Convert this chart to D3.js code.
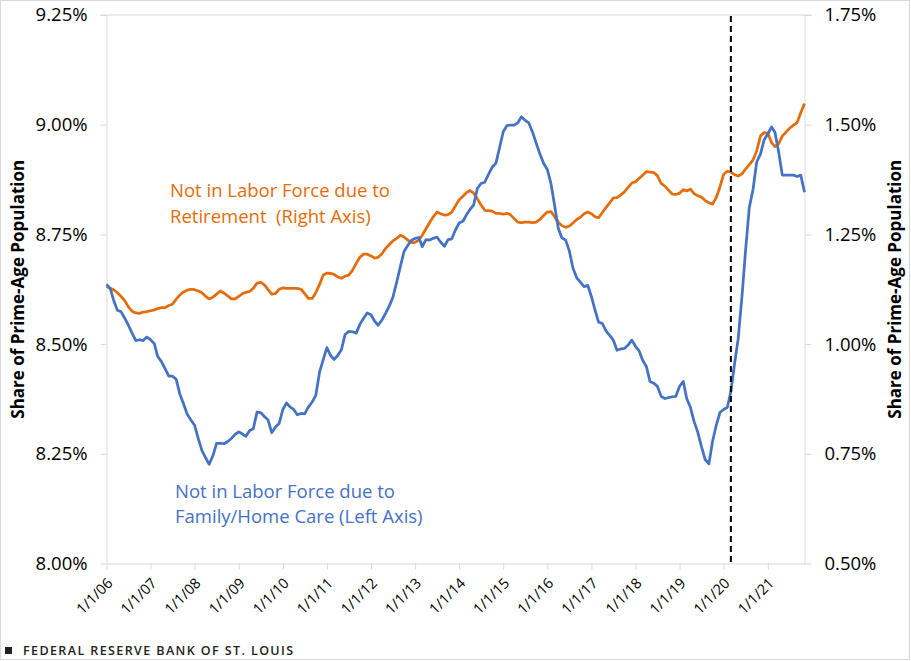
<!DOCTYPE html>
<html><head><meta charset="utf-8">
<script src="https://cdn.jsdelivr.net/npm/d3@7"></script>
<style>
body{margin:0;background:#fff}
svg{display:block}
text{font-family:"Open Sans",sans-serif}
</style>
</head><body>
<svg id="chart" width="911" height="661"></svg>
<script>
// ---- data (monthly, Jan 2006 onward) ----
const startMonth = "2006-01-01";
const endMonth = "2021-11-01";
const familyCare = [ // left axis, %
8.636,8.627,8.600,8.577,8.574,8.559,8.543,8.525,8.508,8.510,8.508,8.516,
8.510,8.501,8.472,8.460,8.444,8.427,8.427,8.420,8.386,8.364,8.340,8.327,
8.315,8.284,8.258,8.241,8.226,8.246,8.274,8.274,8.273,8.278,8.285,8.294,
8.300,8.295,8.290,8.303,8.307,8.345,8.344,8.335,8.327,8.298,8.311,8.319,
8.351,8.366,8.357,8.351,8.339,8.342,8.341,8.357,8.368,8.383,8.436,8.464,
8.492,8.474,8.465,8.474,8.487,8.522,8.529,8.528,8.525,8.545,8.559,8.571,
8.567,8.552,8.543,8.555,8.570,8.587,8.607,8.641,8.677,8.711,8.725,8.736,
8.741,8.743,8.722,8.738,8.737,8.741,8.744,8.732,8.723,8.738,8.740,8.760,
8.776,8.780,8.794,8.807,8.817,8.855,8.866,8.869,8.887,8.903,8.912,8.947,
8.984,8.998,8.999,8.999,9.004,9.018,9.010,9.004,8.983,8.958,8.933,8.912,
8.898,8.865,8.817,8.764,8.742,8.737,8.713,8.673,8.651,8.641,8.631,8.634,
8.608,8.576,8.550,8.547,8.530,8.520,8.509,8.486,8.489,8.490,8.498,8.509,
8.495,8.484,8.463,8.449,8.415,8.411,8.404,8.381,8.376,8.378,8.380,8.381,
8.404,8.415,8.376,8.356,8.324,8.299,8.267,8.237,8.227,8.278,8.315,8.344,
8.351,8.356,8.392,8.456,8.513,8.609,8.714,8.812,8.853,8.915,8.933,8.965,
8.979,8.995,8.983,8.938,8.885,8.885,8.885,8.885,8.882,8.885,8.846
];
const retirement = [ // right axis, %
1.131,1.127,1.124,1.117,1.109,1.099,1.085,1.075,1.071,1.070,1.073,1.074,
1.076,1.078,1.081,1.083,1.083,1.088,1.091,1.102,1.112,1.119,1.123,1.125,
1.124,1.121,1.117,1.109,1.103,1.107,1.114,1.121,1.116,1.110,1.103,1.103,
1.109,1.115,1.118,1.120,1.127,1.139,1.141,1.135,1.124,1.114,1.115,1.125,
1.128,1.127,1.127,1.127,1.127,1.125,1.115,1.104,1.104,1.117,1.136,1.157,
1.162,1.161,1.159,1.153,1.150,1.155,1.157,1.168,1.184,1.198,1.205,1.205,
1.201,1.196,1.198,1.206,1.218,1.227,1.235,1.241,1.248,1.244,1.237,1.231,
1.232,1.237,1.248,1.263,1.277,1.290,1.301,1.297,1.294,1.295,1.301,1.315,
1.329,1.337,1.345,1.350,1.344,1.331,1.317,1.305,1.304,1.303,1.298,1.298,
1.296,1.298,1.295,1.286,1.278,1.277,1.278,1.278,1.277,1.278,1.284,1.293,
1.301,1.302,1.290,1.278,1.270,1.266,1.269,1.276,1.284,1.289,1.297,1.301,
1.297,1.290,1.288,1.300,1.311,1.322,1.333,1.334,1.340,1.347,1.357,1.367,
1.370,1.378,1.385,1.393,1.392,1.391,1.384,1.366,1.360,1.351,1.342,1.341,
1.344,1.352,1.349,1.353,1.343,1.338,1.335,1.327,1.322,1.319,1.334,1.358,
1.387,1.394,1.392,1.386,1.383,1.388,1.399,1.409,1.420,1.440,1.474,1.482,
1.481,1.459,1.450,1.457,1.474,1.483,1.492,1.499,1.505,1.527,1.548
];
const leftTicks = [8.00, 8.25, 8.50, 8.75, 9.00, 9.25];
const rightTicks = [0.50, 0.75, 1.00, 1.25, 1.50, 1.75];
const xTickDates = ["2006-01-01","2007-01-01","2008-01-01","2009-01-01","2010-01-01","2011-01-01",
  "2012-01-01","2013-01-01","2014-01-01","2015-01-01","2016-01-01","2017-01-01",
  "2018-01-01","2019-01-01","2020-01-01","2021-01-01"];
const markerDate = "2020-03-01";
const axisTitle = "Share of Prime-Age Population";
const retirementLabel = ["Not in Labor Force due to", "Retirement  (Right Axis)"];
const familyLabel = ["Not in Labor Force due to", "Family/Home Care (Left Axis)"];
const footer = "FEDERAL RESERVE BANK OF ST. LOUIS";

// ---- styling / layout ----
const BLUE = "#4472C4", ORANGE = "#E46C0A", GRID = "#d9d9d9";
const L = 106.5, R = 804.5, T = 15, B = 563.5;
const parse = d3.timeParse("%Y-%m-%d");
const months = d3.timeMonth.range(parse(startMonth), d3.timeMonth.offset(parse(endMonth), 1));

const svg = d3.select("#chart");
svg.append("rect").attr("x",0.5).attr("y",0.5).attr("width",909).attr("height",659)
  .attr("fill","#fff").attr("stroke",GRID);

const x = d3.scaleTime().domain([parse(startMonth), parse(endMonth)]).range([L, R]);
const yL = d3.scaleLinear().domain([8.0, 9.25]).range([B, T]);
const yR = d3.scaleLinear().domain([0.5, 1.75]).range([B, T]);

// top border line
svg.append("line").attr("x1", L-6).attr("x2", R+7).attr("y1", yL(9.25)).attr("y2", yL(9.25))
  .attr("stroke", GRID).attr("stroke-width", 1);

function styleAxis(g){
  g.selectAll(".domain").attr("stroke", GRID);
  g.selectAll(".tick line").attr("stroke", GRID);
  g.selectAll("text").attr("fill","#000").style("font-family",'"Open Sans",sans-serif');
}

const gL = svg.append("g").attr("transform", `translate(${L},0)`)
  .call(d3.axisLeft(yL).tickValues(leftTicks).tickFormat(d => d.toFixed(2) + "%").tickSize(6).tickSizeOuter(0).tickPadding(13));
styleAxis(gL); gL.selectAll("text").style("font-size","18.5px");

const gR = svg.append("g").attr("transform", `translate(${R},0)`)
  .call(d3.axisRight(yR).tickValues(rightTicks).tickFormat(d => d.toFixed(2) + "%").tickSize(7).tickSizeOuter(0).tickPadding(13));
styleAxis(gR); gR.selectAll("text").style("font-size","18.5px");

const gX = svg.append("g").attr("transform", `translate(0,${B})`)
  .call(d3.axisBottom(x).tickValues(xTickDates.map(parse)).tickFormat(d3.timeFormat("%-m/%-d/%y")).tickSize(6).tickSizeOuter(0));
styleAxis(gX);
gX.selectAll("text").style("font-size","14.5px")
  .attr("text-anchor","end").attr("x",0).attr("y",0).attr("dy","0.35em")
  .attr("transform","translate(3,17) rotate(-45)");

// lines
const lineL = d3.line().x((d,i) => x(months[i])).y(d => yL(d));
const lineR = d3.line().x((d,i) => x(months[i])).y(d => yR(d));
svg.append("path").datum(retirement).attr("d", lineR).attr("fill","none")
  .attr("stroke", ORANGE).attr("stroke-width", 2.75).attr("stroke-linejoin","round");
svg.append("path").datum(familyCare).attr("d", lineL).attr("fill","none")
  .attr("stroke", BLUE).attr("stroke-width", 2.75).attr("stroke-linejoin","round");

// dashed marker
svg.append("line").attr("x1", x(parse(markerDate))).attr("x2", x(parse(markerDate)))
  .attr("y1", T+1).attr("y2", B).attr("stroke","#000").attr("stroke-width",2).attr("stroke-dasharray","6,4");

// axis titles
svg.append("text").attr("transform", `translate(18,${(T+B)/2}) rotate(-90)`)
  .attr("text-anchor","middle").attr("dy","0.35em").style("font-size","17px").style("font-weight","bold")
  .text(axisTitle);
svg.append("text").attr("transform", `translate(895,${(T+B)/2}) rotate(-90)`)
  .attr("text-anchor","middle").attr("dy","0.35em").style("font-size","17px").style("font-weight","bold")
  .text(axisTitle);

// annotations
retirementLabel.forEach((t,i) => svg.append("text").attr("x",170).attr("y",197 + i*26)
  .attr("fill", ORANGE).style("font-size","18.5px").style("white-space","pre").text(t));
familyLabel.forEach((t,i) => svg.append("text").attr("x",175).attr("y",498 + i*25)
  .attr("fill", BLUE).style("font-size","18.5px").style("white-space","pre").text(t));

// footer
svg.append("rect").attr("x",5).attr("y",647).attr("width",7).attr("height",7).attr("fill","#222");
svg.append("text").attr("x",23).attr("y",655).attr("fill","#222")
  .style("font-size","12.5px").style("font-weight","600").style("letter-spacing","1.4px").text(footer);
</script>
</body></html>
